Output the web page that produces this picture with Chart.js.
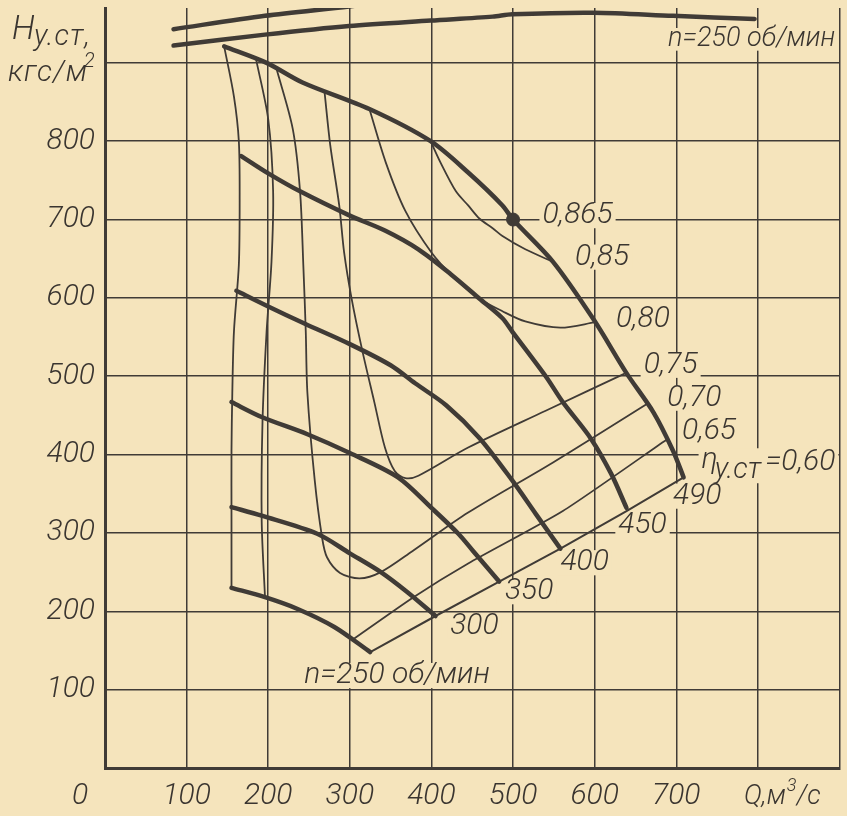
<!DOCTYPE html>
<html>
<head>
<meta charset="utf-8">
<script src="https://cdn.jsdelivr.net/npm/chart.js@4.4.1/dist/chart.umd.min.js"></script>
<style>
  html, body { margin: 0; padding: 0; background: #f5e4bc; }
  #wrap { width: 847px; height: 816px; }
</style>
</head>
<body>
<div id="wrap"><canvas id="chart" width="847" height="816"></canvas></div>
<script>
// Оси: Q, м3/с и H у.ст, кгс/м2
const qTickValues = [0, 100, 200, 300, 400, 500, 600, 700, 800, 900];
const qTickLabels = ["", "100", "200", "300", "400", "500", "600", "700", "", ""];
const hTickValues = [0, 100, 200, 300, 400, 500, 600, 700, 800, 900];
const hTickLabels = ["", "100", "200", "300", "400", "500", "600", "700", "800", ""];

// Характеристики H-Q при n = const, об/мин
const qN490 = [146, 198, 242, 324, 399, 445, 487, 500, 549, 599, 639, 672, 696, 709];
const hN490 = [921, 900, 875, 841, 800, 760, 718, 700, 646, 572, 504, 454, 405, 371];
const qN450 = [167, 200, 239, 300, 343, 384, 424, 459, 487, 499, 540, 561, 595, 620, 639];
const hN450 = [781, 759, 736, 705, 686, 662, 630, 599, 574, 557, 500, 467, 421, 376, 332];
const qN400 = [161, 200, 245, 300, 350, 380, 418, 459, 499, 528, 558];
const hN400 = [609, 589, 567, 541, 514, 491, 463, 421, 367, 324, 280];
const qN350 = [155, 192, 248, 300, 359, 400, 433, 451, 483];
const hN350 = [467, 448, 426, 402, 371, 332, 299, 277, 238];
const qN300 = [155, 192, 260, 300, 338, 371, 405];
const hN300 = [333, 322, 299, 274, 250, 224, 194];
const qN250 = [155, 196, 236, 281, 325];
const hN250 = [230, 218, 203, 180, 148];

// Левая граница области
const qLeft = [146, 158, 164, 165, 164, 158, 156, 155, 155, 155];
const hLeft = [921, 857, 800, 726, 642, 557, 479, 405, 315, 230];

// Линии равного КПД
const qEta060 = [325, 405, 483, 558, 639, 709];
const hEta060 = [148, 194, 238, 280, 328, 371];
const qEta065a = [185, 200, 206, 204, 198, 193, 192, 196];
const hEta065a = [905, 828, 736, 646, 557, 442, 315, 219];
const qEta065b = [305, 378, 445, 561, 688];
const hEta065b = [165, 218, 261, 328, 419];
const qEta070 = [210, 230, 239, 243, 246, 248, 257, 266, 272, 288, 312, 338, 377, 445, 549, 663];
const hEta070 = [893, 816, 736, 642, 557, 479, 367, 294, 269, 249, 242, 250, 277, 326, 390, 464];
const qEta075 = [269, 276, 287, 293, 302, 315, 330, 343, 355, 368, 384, 445, 540, 638];
const hEta075 = [863, 795, 718, 658, 600, 534, 467, 409, 379, 370, 373, 409, 456, 504];
const qEta080 = [324, 344, 368, 400, 427, 459, 487, 515, 558, 601];
const hEta080 = [841, 773, 711, 658, 627, 599, 583, 570, 562, 569];
const qEta085 = [399, 411, 430, 445, 459, 475, 487, 515, 549];
const hEta085 = [800, 773, 736, 718, 701, 689, 679, 662, 646];

// Максимум КПД 0,865
const qBest = [500];
const hBest = [700];

// Верхние кривые (у верхнего края)
const qTopA = [84, 196, 299, 400];
const hTopA = [943, 960, 972, 985];
const qTop250 = [84, 196, 299, 399, 475, 499, 599, 696, 796];
const hTop250 = [922, 936, 947, 954, 959, 962, 964, 960, 956];

// Подписи на поле графика (bg - ширина подложки, если нужна шире текста)
const curveLabels = [
    { text: "0,865", q: 536, h: 705, size: 30 },
    { text: "0,85", q: 576, h: 652, size: 30 },
    { text: "0,80", q: 626, h: 572, size: 30 },
    { text: "0,75", q: 660, h: 514, size: 30 },
    { text: "0,70", q: 689, h: 472, size: 30 },
    { text: "0,65", q: 707, h: 430, size: 30 },
    { text: "η", q: 731, h: 392, size: 30, bg: 130 },
    { text: "у.ст", q: 747, h: 379, size: 29 },
    { text: "=0,60", q: 809, h: 390, size: 30 },
    { text: "490", q: 696, h: 347, size: 30 },
    { text: "450", q: 629, h: 309, size: 30 },
    { text: "400", q: 558, h: 262, size: 30 },
    { text: "350", q: 490, h: 225, size: 30 },
    { text: "300", q: 423, h: 181, size: 30 },
    { text: "n=250 об/мин", q: 244, h: 118, size: 30 },
    { text: "n=250 об/мин", q: 690, h: 930, size: 27 }
];

const INK = "#3a3530";
const LINE = "#403b36";
const PAPER = "#f5e4bc";
const FONT = "Roboto, 'DejaVu Sans', sans-serif";

function pts(qs, hs) {
    return qs.map((q, i) => ({ x: q, y: hs[i] }));
}

function line(qs, hs, width, tension) {
    return {
        data: pts(qs, hs),
        showLine: true,
        borderColor: LINE,
        borderWidth: width,
        pointRadius: 0,
        tension: tension,
        borderCapStyle: "round",
        borderJoinStyle: "round"
    };
}

const datasets = [
    line(qTopA, hTopA, 4.5, 0.3),
    line(qTop250, hTop250, 4.5, 0.3),
    line(qLeft, hLeft, 1.8, 0.3),
    line(qEta065a, hEta065a, 1.8, 0.3),
    line(qEta065b, hEta065b, 1.8, 0.2),
    line(qEta070, hEta070, 1.8, 0.3),
    line(qEta075, hEta075, 1.8, 0.3),
    line(qEta080, hEta080, 1.8, 0.3),
    line(qEta085, hEta085, 1.8, 0.3),
    line(qEta060, hEta060, 2, 0),
    line(qN490, hN490, 4.5, 0.3),
    line(qN450, hN450, 4.5, 0.3),
    line(qN400, hN400, 4.5, 0.3),
    line(qN350, hN350, 4.5, 0.3),
    line(qN300, hN300, 4.5, 0.3),
    line(qN250, hN250, 4.5, 0.3),
    {
        data: pts(qBest, hBest),
        showLine: false,
        pointRadius: 6.5,
        pointBackgroundColor: LINE,
        pointBorderColor: LINE
    }
];

function italic(size) {
    return "italic 300 " + size + "px " + FONT;
}

// фон "бумаги"
const paperPlugin = {
    id: "paper",
    beforeDraw(chart) {
        const ctx = chart.ctx;
        ctx.save();
        ctx.fillStyle = PAPER;
        ctx.fillRect(0, 0, chart.width, chart.height);
        ctx.restore();
    }
};

// подписи кривых, с подложкой поверх сетки
const labelsPlugin = {
    id: "curveLabels",
    beforeDatasetsDraw(chart) {
        const ctx = chart.ctx;
        const xs = chart.scales.x;
        const ys = chart.scales.y;
        ctx.save();
        ctx.fillStyle = PAPER;
        curveLabels.forEach((l) => {
            ctx.font = italic(l.size);
            const w = l.bg || ctx.measureText(l.text).width;
            const x = xs.getPixelForValue(l.q);
            const y = ys.getPixelForValue(l.h);
            ctx.fillRect(x - 3, y - l.size * 0.42, w + 6, l.size * 0.84);
        });
        ctx.restore();
    },
    afterDatasetsDraw(chart) {
        const ctx = chart.ctx;
        const xs = chart.scales.x;
        const ys = chart.scales.y;
        ctx.save();
        ctx.fillStyle = INK;
        ctx.textAlign = "left";
        ctx.textBaseline = "middle";
        curveLabels.forEach((l) => {
            ctx.font = italic(l.size);
            ctx.fillText(l.text, xs.getPixelForValue(l.q), ys.getPixelForValue(l.h));
        });
        ctx.restore();
    },
    afterDraw(chart) {
        const ctx = chart.ctx;
        const xs = chart.scales.x;
        const area = chart.chartArea;
        ctx.save();
        ctx.fillStyle = INK;
        ctx.textBaseline = "alphabetic";
        ctx.textAlign = "left";
        // название оси H
        ctx.font = italic(33);
        ctx.fillText("H", 12, 39);
        ctx.font = italic(29);
        ctx.letterSpacing = "1px";
        ctx.fillText("у.ст,", 34, 45);
        ctx.font = italic(30);
        ctx.fillText("кгс/м", 8, 81);
        ctx.letterSpacing = "0px";
        ctx.font = italic(20);
        ctx.fillText("2", 84, 67);
        // ноль и подпись оси Q
        ctx.textAlign = "center";
        ctx.font = italic(30);
        ctx.fillText("0", area.left - 25, area.bottom + 36);
        ctx.textAlign = "left";
        ctx.font = italic(27);
        const qx = xs.getPixelForValue(800) - 14;
        ctx.fillText("Q,м", qx, area.bottom + 36);
        const w1 = ctx.measureText("Q,м").width;
        ctx.font = italic(18);
        ctx.fillText("3", qx + w1 + 1, area.bottom + 23);
        ctx.font = italic(27);
        ctx.fillText("/с", qx + w1 + 11, area.bottom + 36);
        ctx.restore();
    }
};

function noPad(scale) {
    scale.paddingTop = 0;
    scale.paddingBottom = 0;
    scale.paddingLeft = 0;
    scale.paddingRight = 0;
}

new Chart(document.getElementById("chart"), {
    type: "scatter",
    data: { datasets: datasets },
    options: {
        responsive: false,
        devicePixelRatio: 1,
        animation: false,
        events: [],
        layout: { padding: { left: 0, right: 5, top: 8, bottom: 0 } },
        plugins: { legend: { display: false }, tooltip: { enabled: false } },
        scales: {
            x: {
                type: "linear",
                min: 0,
                max: 900,
                afterFit: (scale) => { scale.height = 48; noPad(scale); },
                afterBuildTicks: (scale) => {
                    scale.ticks = qTickValues.map((v) => ({ value: v }));
                },
                ticks: {
                    autoSkip: false,
                    maxRotation: 0,
                    padding: 10,
                    color: INK,
                    font: { family: FONT, size: 30, style: "italic", weight: "300" },
                    callback: (v) => qTickLabels[qTickValues.indexOf(v)] || ""
                },
                grid: { color: LINE, lineWidth: 1.5, drawTicks: false },
                border: { display: true, color: LINE, width: 3 }
            },
            y: {
                type: "linear",
                min: 0,
                max: 970,
                afterFit: (scale) => { scale.width = 105; noPad(scale); },
                afterBuildTicks: (scale) => {
                    scale.ticks = hTickValues.map((v) => ({ value: v }));
                },
                ticks: {
                    autoSkip: false,
                    padding: 10,
                    color: INK,
                    font: { family: FONT, size: 30, style: "italic", weight: "300" },
                    callback: (v) => hTickLabels[hTickValues.indexOf(v)] || ""
                },
                grid: { color: LINE, lineWidth: 1.5, drawTicks: false },
                border: { display: true, color: LINE, width: 3 }
            }
        }
    },
    plugins: [paperPlugin, labelsPlugin]
});
</script>
</body>
</html>
